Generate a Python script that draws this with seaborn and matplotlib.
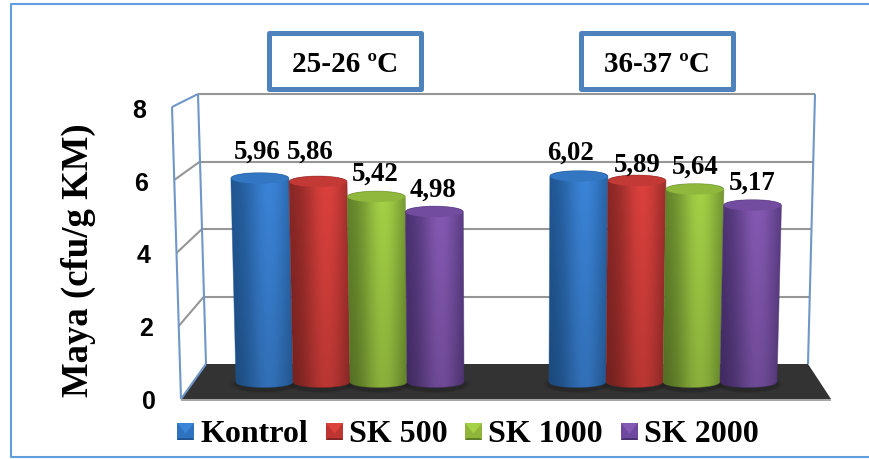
import numpy as np
import pandas as pd
import matplotlib
matplotlib.use("Agg")
import matplotlib.pyplot as plt
from matplotlib.patches import Polygon, Ellipse, Rectangle
from matplotlib.transforms import Affine2D
import seaborn as sns

# Data
groups = ["25-26 ºC", "36-37 ºC"]
series = ["Kontrol", "SK 500", "SK 1000", "SK 2000"]
values_low = [5.96, 5.86, 5.42, 4.98]
values_high = [6.02, 5.89, 5.64, 5.17]
y_ticks = [0, 2, 4, 6, 8]
y_label = "Maya (cfu/g KM)"

# Styling
W, H = 870, 460
SERIF = "Liberation Serif"
base_colors = ["#2F72BE", "#BF3531", "#8FB63B", "#6F48A0"]
dark_colors = ["#1F5590", "#842624", "#5F7E29", "#49306F"]
bright_colors = ["#3B84D8", "#DC413D", "#A4D146", "#8459B3"]
frame_blue = "#5F9FDE"
wall_blue = "#6F97C8"
grid_gray = "#969696"
box_blue = "#4F81BD"

BAR_BOTTOM_PX, UNIT_PX = 383.0, 34.2
GROUP_LEFT_PX, GROUP_STEP_PX = 350.0, 313.0
PERSPECTIVE = 0.0032
CAP_PX = 5.5
CAP_RADIUS = CAP_PX / UNIT_PX
# Offsets of the value labels from the bar top (x, y in pixels)
label_dx = [-3, -8, -1, -1, -8, 0, 0, 0]
label_dy = [15, 18, 11, 10.7, 12, 4, 10.6, 11]

df = pd.DataFrame({
    "group": np.repeat(groups, len(series)),
    "series": series * len(groups),
    "value": values_low + values_high,
})

fig = plt.figure(figsize=(W / 100, H / 100), dpi=100, facecolor="white")
xlim = (-GROUP_LEFT_PX / GROUP_STEP_PX, (W - GROUP_LEFT_PX) / GROUP_STEP_PX)
ylim = ((BAR_BOTTOM_PX - H) / UNIT_PX, BAR_BOTTOM_PX / UNIT_PX)

bar_ax = fig.add_axes([0, 0, 1, 1])
sns.barplot(data=df, x="group", y="value", hue="series", hue_order=series,
            palette=base_colors, saturation=1, width=228 / GROUP_STEP_PX,
            legend=False, ax=bar_ax)
bar_ax.set_xlim(*xlim)
bar_ax.set_ylim(*ylim)
bar_ax.axis("off")

# Second layer on a plain numeric x axis, aligned with the bar axes
ax = fig.add_axes([0, 0, 1, 1], facecolor="none")
ax.set_xlim(*xlim)
ax.set_ylim(*ylim)
ax.axis("off")

# Pixel coordinates with the origin at the top-left, used for the chart furniture
px = Affine2D().scale(1 / W, -1 / H).translate(0, 1) + fig.transFigure


def line(xs, ys, color, lw, z=1):
    ax.plot(xs, ys, color=color, lw=lw, transform=px, zorder=z,
            solid_capstyle="butt", clip_on=False)


# Outer frame, open at the right where it runs off the canvas
line([W, 11, 11, W], [5, 5, 458, 458], frame_blue, 1.5, 0)

# Floor
ax.add_patch(Polygon([(181, 400), (206, 365), (808, 365), (831, 400)], fc="#333333",
                     ec="none", transform=px, zorder=1))
line([181, 831], [400.5, 400.5], grid_gray, 1.2)

# Gridlines on the back wall and the left side wall
for t in y_ticks[1:]:
    frac = t / 8
    back_y = 365 - 33.75 * t
    front_y = 400 - 36.5 * t
    back_left = 206 - 8 * frac
    back_right = 808 + 7 * frac
    front_left = 181 - 9 * frac
    line([back_left, back_right], [back_y, back_y], grid_gray, 1.5)
    color = wall_blue if t == 8 else grid_gray
    line([front_left, back_left], [front_y, back_y], color, 1.5)

# Wall edges
line([181, 172], [400, 108], wall_blue, 1.5, 2)
line([206, 198], [365, 95], wall_blue, 1.5, 2)
line([808, 815], [365, 95], wall_blue, 1.5, 2)
line([181, 206], [400, 365], wall_blue, 1.5, 2)


def project(x, h):
    """Spread x away from the chart centre as the height h grows."""
    return 0.5 + (x - 0.5) * (1 + PERSPECTIVE * h)


def hex_rgb(c):
    return np.array(matplotlib.colors.to_rgb(c))


def draw_cylinder(left, width, value, idx, z):
    # Horizontal shading: dark edges, brightest slightly right of the centre
    u = np.linspace(-1, 1, 120)
    v = np.linspace(0, 1, 80)
    lit = np.exp(-((u - 0.22) / 0.72) ** 2)
    dark, bright = hex_rgb(dark_colors[idx]), hex_rgb(bright_colors[idx])
    row = dark + (bright - dark) * lit[:, None]
    shade = 0.84 + 0.16 * v
    img = np.clip(row[None, :, :] * shade[:, None, None], 0, 1)

    # Silhouette: straight sides leaning with the perspective, curved ends
    arc = np.linspace(-1, 1, 60)
    drop = CAP_RADIUS * np.sqrt(1 - arc ** 2)
    xb = project(left + (arc + 1) / 2 * width, 0)
    xt = project(left + (arc + 1) / 2 * width, value)
    outline = np.vstack([np.column_stack([xb, -drop]),
                         np.column_stack([xt[::-1], value + drop[::-1]])])

    x_low = min(xb.min(), xt.min())
    x_high = max(xb.max(), xt.max())
    im = ax.imshow(img, extent=(x_low, x_high, -CAP_RADIUS, value + CAP_RADIUS),
                   origin="lower", aspect="auto", interpolation="bilinear", zorder=z)
    body = Polygon(outline, closed=True, transform=ax.transData)
    im.set_clip_path(body)
    # A thin edge in the dark tone smooths the clipped silhouette
    ax.add_patch(Polygon(outline, closed=True, fc="none", ec=dark, lw=0.6, alpha=0.5,
                         zorder=z + 0.002))

    # Top cap, only slightly apart from the body
    cx = project(left + width / 2, value)
    cap_w = width * (1 + PERSPECTIVE * value)
    ax.add_patch(Ellipse((cx, value), cap_w, 2 * CAP_RADIUS,
                         fc=0.30 * dark + 0.70 * bright, ec="none", zorder=z + 0.001))


# Cylinders and value labels, built from the bars seaborn placed
for container in bar_ax.containers:
    for bar in container:
        bar.set_facecolor("none")
        bar.set_edgecolor("none")

for group_i in range(len(groups)):
    for idx, container in enumerate(bar_ax.containers):
        bar = container[group_i]
        left, width, value = bar.get_x(), bar.get_width(), bar.get_height()
        # Soft shadow on the floor, layered from wide and faint to narrow
        bottom_cx = project(left + width / 2, 0)
        for grow, alpha in zip([1.22, 1.14, 1.06], [0.10, 0.15, 0.20]):
            ax.add_patch(Ellipse((bottom_cx, -CAP_RADIUS * 0.4), width * grow, 0.42 * grow,
                                 fc="#1A1A1A", ec="none", alpha=alpha, zorder=1.5))
        draw_cylinder(left, width, value, idx, 3 + idx * 0.01)
        # The label sits on the bar top, shifted clear of its neighbours
        k = group_i * len(series) + idx
        top_cx = project(left + width / 2, value)
        trans = ax.transData + Affine2D().translate(label_dx[k], label_dy[k] + CAP_PX)
        ax.text(top_cx, value, f"{value:.2f}".replace(".", ","), transform=trans,
                ha="center", va="baseline", family=SERIF, weight="bold",
                fontsize=19.3, color="black", zorder=6)

ax.set_xlim(*xlim)
ax.set_ylim(*ylim)

# Y tick labels
for t in y_ticks:
    ax.text(148.5 - 1.2 * t, 402 - 36.4 * t, str(t), transform=px, ha="center",
            va="center", family="Liberation Sans", weight="bold", fontsize=18, color="black")

# Y axis title
ax.text(78, 260, y_label, transform=px, rotation=90, ha="center", va="center",
        family=SERIF, weight="bold", fontsize=26.5, color="black")

# Temperature boxes
for name, bx, tx in zip(groups, [267, 579], [345, 657]):
    ax.add_patch(Rectangle((bx + 2.5, 33.5), 152, 56.5, fc="white", ec=box_blue, lw=3.6,
                           transform=px, zorder=7, joinstyle="round"))
    ax.text(tx, 72.5, name, transform=px, ha="center", va="baseline", family=SERIF,
            weight="bold", fontsize=21, color="black", zorder=8)

# Legend with bevelled swatches
for name, c, d, b, sx, tx in zip(series, base_colors, dark_colors, bright_colors,
                                 [177, 326, 465, 621], [200.5, 349.5, 488.5, 644]):
    x0, x1, y0, y1 = sx, sx + 17, 424, 441
    mx, my = (x0 + x1) / 2, (y0 + y1) / 2
    ax.add_patch(Rectangle((x0, y0), x1 - x0, y1 - y0, fc=c, ec="none", transform=px, zorder=6))
    ax.add_patch(Polygon([(x0, y0), (x1, y0), (mx, my + 2)], fc=b, ec="none",
                         transform=px, zorder=6.1))
    ax.add_patch(Polygon([(x0, y1), (x1, y1), (x1 - 2, y1 - 2), (x0 + 2, y1 - 2)], fc=d, ec="none",
                         transform=px, zorder=6.1))
    ax.text(tx, 442, name, transform=px, ha="left", va="baseline", family=SERIF,
            weight="bold", fontsize=23, color="black", zorder=6)

fig.savefig("out.png", dpi=100, facecolor="white")
